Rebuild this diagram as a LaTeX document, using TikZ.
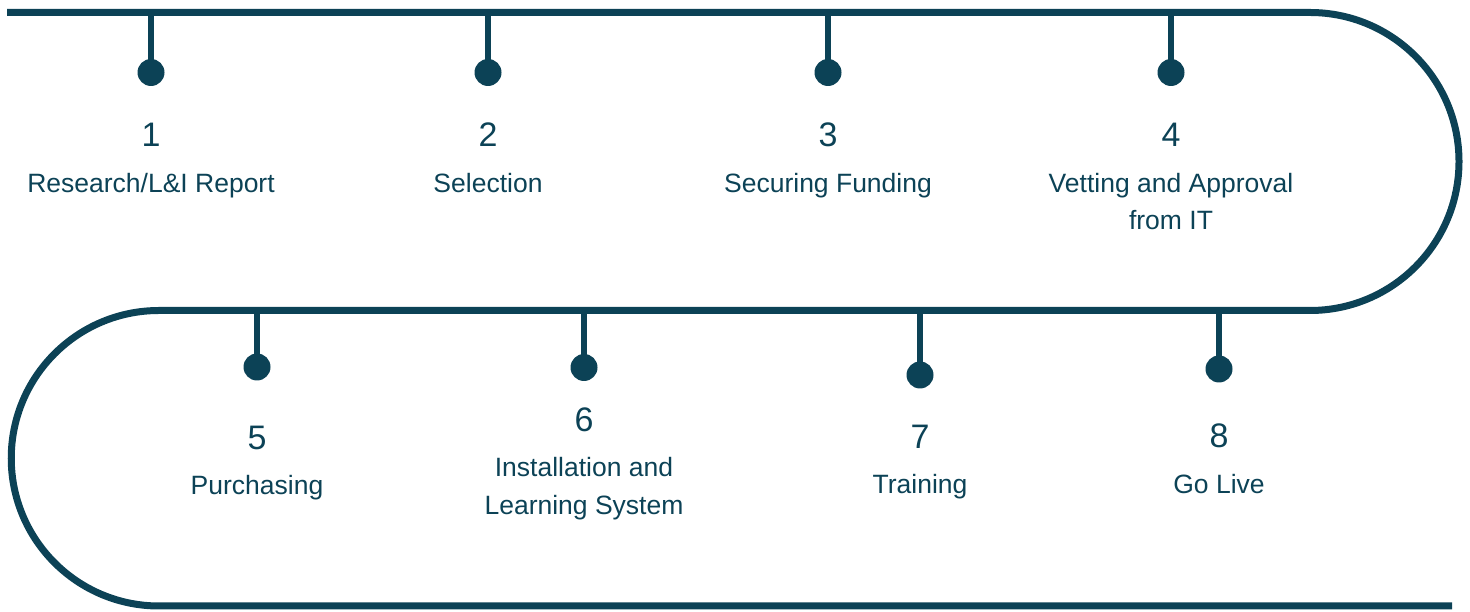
\documentclass[tikz,border=0pt]{standalone}
\usepackage{fontspec}
\setmainfont{Liberation Sans}
\definecolor{trackblue}{HTML}{0C4256}
\tikzset{
  track/.style={draw=trackblue, line width=7pt},
  stem/.style={draw=trackblue, line width=6.5pt},
  dot/.style={circle, fill=trackblue, minimum size=27pt, inner sep=0pt},
  num/.style={anchor=base, text=trackblue, font=\fontsize{34}{40}\selectfont},
  lbl/.style={anchor=base, text=trackblue, align=center, font=\fontsize{26.5}{37.5}\selectfont},
}
\begin{document}
\begin{tikzpicture}[x=1pt,y=1pt]
\useasboundingbox (0,0) rectangle (1470,612);

% winding track
\draw[track] (7,599.5) -- (1310,599.5) arc (90:-90:149) -- (159,301.5) arc (90:270:147.75) -- (1452,6);

% top row
\coordinate (t1) at (151,599.5);
\coordinate (t2) at (488,599.5);
\coordinate (t3) at (828,599.5);
\coordinate (t4) at (1171,599.5);
\node[dot] (d1) at (151,539.5) {};
\node[dot] (d2) at (488,539.5) {};
\node[dot] (d3) at (828,539.5) {};
\node[dot] (d4) at (1171,539.5) {};
\draw[stem] (t1) -- (d1.center);
\draw[stem] (t2) -- (d2.center);
\draw[stem] (t3) -- (d3.center);
\draw[stem] (t4) -- (d4.center);

\node[num] (n1) at (151,465.3) {1};
\node[num] (n2) at (488,465.3) {2};
\node[num] (n3) at (828,465.3) {3};
\node[num] (n4) at (1171,465.3) {4};
\node[lbl] (l1) at (151,419) {Research/L\&I Report};
\node[lbl] (l2) at (488,419) {Selection};
\node[lbl] (l3) at (828,419) {Securing Funding};
\node[lbl] (l4) at (1171,382) {Vetting and Approval\\from IT};

% bottom row
\coordinate (b5) at (257,301.5);
\coordinate (b6) at (584,301.5);
\coordinate (b7) at (920,301.5);
\coordinate (b8) at (1219,301.5);
\node[dot] (d5) at (257,245) {};
\node[dot] (d6) at (584,244.5) {};
\node[dot] (d7) at (920,237) {};
\node[dot] (d8) at (1219,243) {};
\draw[stem] (b5) -- (d5.center);
\draw[stem] (b6) -- (d6.center);
\draw[stem] (b7) -- (d7.center);
\draw[stem] (b8) -- (d8.center);

\node[num] (n5) at (257,162) {5};
\node[num] (n6) at (584,180.3) {6};
\node[num] (n7) at (920,163.7) {7};
\node[num] (n8) at (1219,164.3) {8};
\node[lbl] (l5) at (257,117) {Purchasing};
\node[lbl] (l6) at (584,97.7) {Installation and\\Learning System};
\node[lbl] (l7) at (920,118.7) {Training};
\node[lbl] (l8) at (1219,118.7) {Go Live};
\end{tikzpicture}
\end{document}
